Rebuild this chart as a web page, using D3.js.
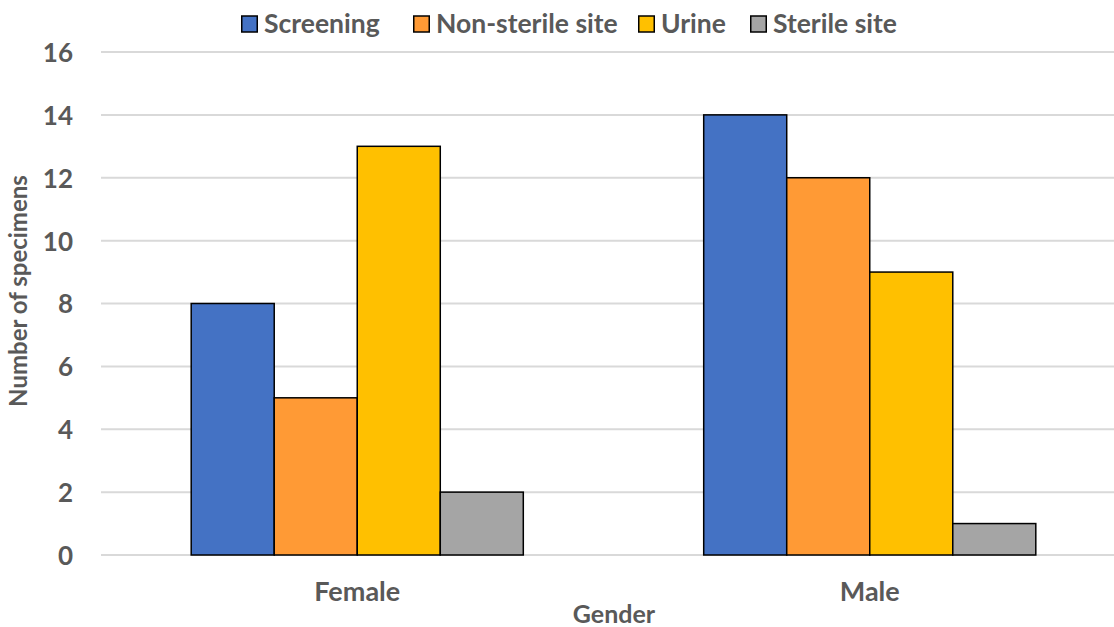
<!DOCTYPE html>
<html>
<head>
<meta charset="utf-8">
<script src="https://cdn.jsdelivr.net/npm/d3@7"></script>
<style>
  html, body { margin: 0; padding: 0; background: #fff; }
  svg text { font-family: Lato, "Open Sans", sans-serif; font-weight: bold; fill: #595959; }
</style>
</head>
<body>
<svg id="chart" width="1114" height="627"></svg>
<script>
// Specimen counts by gender and specimen type
const genders = ["Female", "Male"];
const seriesNames = ["Screening", "Non-sterile site", "Urine", "Sterile site"];
const screening = [8, 14];
const nonSterile = [5, 12];
const urine = [13, 9];
const sterile = [2, 1];
const yTicks = [0, 2, 4, 6, 8, 10, 12, 14, 16];
const colors = ["#4472C4", "#FF9A35", "#FFC000", "#A5A5A5"];

const seriesValues = [screening, nonSterile, urine, sterile];
const rows = genders.map((g, i) => ({
  gender: g,
  values: seriesNames.map((s, j) => ({ key: s, value: seriesValues[j][i], color: colors[j] }))
}));

const svg = d3.select("#chart");
const plot = { left: 101, right: 1126, top: 52, bottom: 555 };

const x0 = d3.scaleBand().domain(genders).range([plot.left, plot.right]).padding(0);
const groupWidth = x0.bandwidth() * 0.648;
const x1 = d3.scaleBand().domain(seriesNames).range([0, groupWidth]).padding(0);
const y = d3.scaleLinear().domain([0, 16]).range([plot.bottom, plot.top]);

// Horizontal gridlines
svg.append("g")
  .selectAll("line")
  .data(yTicks)
  .join("line")
  .attr("x1", plot.left)
  .attr("x2", 1114)
  .attr("y1", d => y(d))
  .attr("y2", d => y(d))
  .attr("stroke", "#D9D9D9")
  .attr("stroke-width", 2);

// Y axis labels
const yAxis = d3.axisLeft(y).tickValues(yTicks).tickSize(0).tickPadding(0);
const yg = svg.append("g").attr("transform", "translate(73,0)").call(yAxis);
yg.select(".domain").remove();
yg.selectAll("text").style("font-size", "26px").attr("dy", "0.36em");

// Bars
const groups = svg.append("g")
  .selectAll("g")
  .data(rows)
  .join("g")
  .attr("transform", d => `translate(${x0(d.gender) + (x0.bandwidth() - groupWidth) / 2},0)`);

groups.selectAll("rect")
  .data(d => d.values)
  .join("rect")
  .attr("x", d => x1(d.key))
  .attr("y", d => y(d.value))
  .attr("width", x1.bandwidth())
  .attr("height", d => y(0) - y(d.value))
  .attr("fill", d => d.color)
  .attr("stroke", "#000")
  .attr("stroke-width", 1.5);

// Category axis labels
const xAxis = d3.axisBottom(x0).tickSize(0).tickPadding(0);
const xg = svg.append("g").attr("transform", "translate(0,601)").call(xAxis);
xg.select(".domain").remove();
xg.selectAll("text").style("font-size", "27px").attr("dy", "0");

// Axis titles
svg.append("text")
  .attr("x", 614)
  .attr("y", 623)
  .attr("text-anchor", "middle")
  .style("font-size", "25px")
  .text("Gender");

svg.append("text")
  .attr("transform", "translate(27,291) rotate(-90)")
  .attr("text-anchor", "middle")
  .style("font-size", "24px")
  .text("Number of specimens");

// Legend
const legendX = [241, 413, 638, 750];
const legend = svg.append("g")
  .selectAll("g")
  .data(seriesNames)
  .join("g")
  .attr("transform", (d, i) => `translate(${legendX[i]},0)`);

legend.append("rect")
  .attr("x", 0.75)
  .attr("y", 16)
  .attr("width", 15.5)
  .attr("height", 16)
  .attr("fill", (d, i) => colors[i])
  .attr("stroke", "#000")
  .attr("stroke-width", 1.5);

legend.append("text")
  .attr("x", 23)
  .attr("y", 33)
  .style("font-size", "26.5px")
  .text(d => d);
</script>
</body>
</html>
